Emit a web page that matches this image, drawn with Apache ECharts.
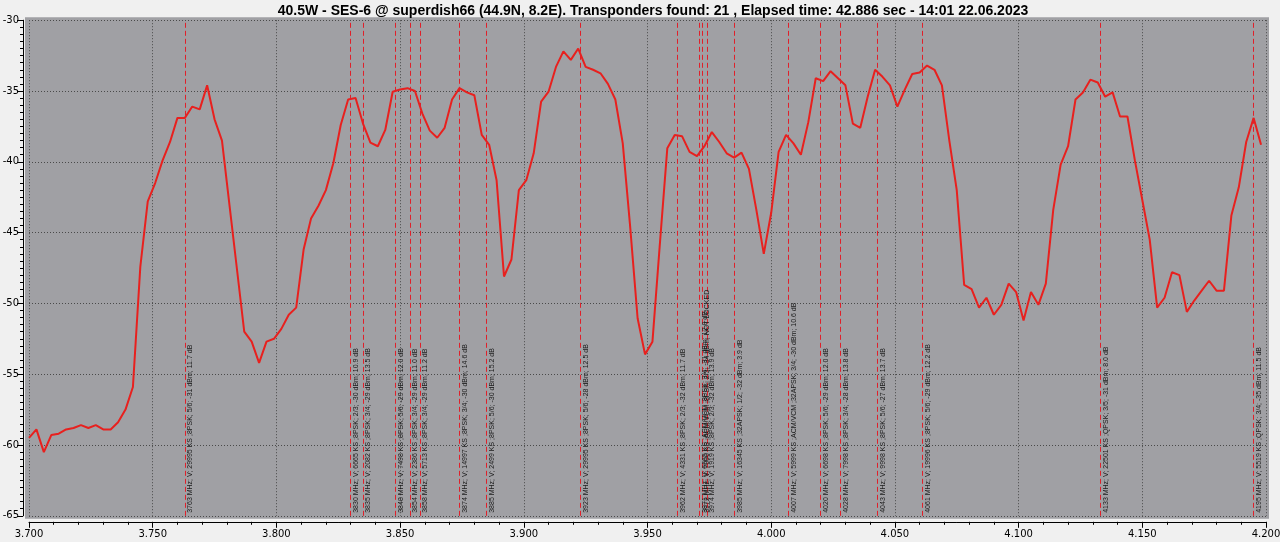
<!DOCTYPE html>
<html><head><meta charset="utf-8">
<script src="https://cdn.jsdelivr.net/npm/echarts@6/dist/echarts.min.js"></script>
<style>html,body{margin:0;padding:0;background:#f0f0f0}#c{width:1280px;height:542px}</style>
</head><body><div id="c"></div>
<script>
const titleText = '40.5W - SES-6 @ superdish66 (44.9N, 8.2E). Transponders found: 21 , Elapsed time: 42.886 sec - 14:01 22.06.2023';

const freqMHz = [
 3700,3703,3706,3709,3712,3715,3718,3721,3724,3727,3730,3733,3736,3739,3742,3745,3748,3751,3754,3757,
 3760,3763,3766,3769,3772,3775,3778,3781,3784,3787,3790,3793,3796,3799,3802,3805,3808,3811,3814,3817,
 3820,3823,3826,3829,3832,3835,3838,3841,3844,3847,3850,3853,3856,3859,3862,3865,3868,3871,3874,3877,
 3880,3883,3886,3889,3892,3895,3898,3901,3904,3907,3910,3913,3916,3919,3922,3925,3928,3931,3934,3937,
 3940,3943,3946,3949,3952,3955,3958,3961,3964,3967,3970,3973,3976,3979,3982,3985,3988,3991,3994,3997,
 4000,4003,4006,4009,4012,4015,4018,4021,4024,4027,4030,4033,4036,4039,4042,4045,4048,4051,4054,4057,
 4060,4063,4066,4069,4072,4075,4078,4081,4084,4087,4090,4093,4096,4099,4102,4105,4108,4111,4114,4117,
 4120,4123,4126,4129,4132,4135,4138,4141,4144,4147,4150,4153,4156,4159,4162,4165,4168,4171,4174,4177,
 4180,4183,4186,4189,4192,4195,4198
];
const levelDbm = [
 -59.5,-58.9,-60.5,-59.3,-59.2,-58.9,-58.8,-58.6,-58.8,-58.6,-58.9,-58.9,-58.4,-57.5,-55.9,-47.4,-42.8,-41.5,-39.9,-38.6,
 -36.9,-36.9,-36.1,-36.3,-34.6,-37.0,-38.5,-43.0,-47.5,-52.0,-52.7,-54.2,-52.7,-52.5,-51.8,-50.8,-50.3,-46.2,-44.0,-43.1,
 -42.0,-40.1,-37.4,-35.6,-35.5,-37.3,-38.65,-38.9,-37.75,-35.05,-34.9,-34.8,-35.0,-36.6,-37.8,-38.3,-37.6,-35.6,-34.8,-35.1,
 -35.3,-38.1,-38.8,-41.3,-48.1,-46.9,-42.0,-41.3,-39.4,-35.75,-35.05,-33.3,-32.2,-32.8,-32.0,-33.3,-33.5,-33.75,-34.5,-35.6,
 -38.7,-44.6,-51.05,-53.6,-52.7,-45.8,-39.05,-38.1,-38.2,-39.3,-39.6,-38.9,-37.9,-38.6,-39.4,-39.7,-39.35,-40.5,-43.4,-46.5,
 -43.6,-39.3,-38.1,-38.7,-39.5,-37.2,-34.1,-34.3,-33.6,-34.1,-34.6,-37.3,-37.6,-35.4,-33.5,-34.0,-34.6,-36.1,-34.9,-33.8,
 -33.7,-33.2,-33.5,-34.6,-38.5,-42.0,-48.7,-49.0,-50.3,-49.6,-50.8,-50.1,-48.6,-49.2,-51.2,-49.2,-50.1,-48.6,-43.4,-40.2,
 -38.9,-35.6,-35.1,-34.2,-34.4,-35.4,-35.1,-36.8,-36.8,-39.9,-42.7,-45.5,-50.3,-49.6,-47.8,-48.0,-50.6,-49.8,-49.1,-48.4,
 -49.1,-49.1,-43.8,-41.8,-38.6,-36.9,-38.8
];

const tpFreqMHz = [3763,3830,3835,3848,3854,3858,3874,3885,3923,3962,3971,3972,3974,3985,4007,4020,4028,4043,4061,4133,4195];
const tpLabels = [
 '3763 MHz; V; 29995 KS ;8PSK; 5/6; -31 dBm; 11.7 dB',
 '3830 MHz; V; 6665 KS ;8PSK; 2/3; -30 dBm; 10.9 dB',
 '3835 MHz; V; 2082 KS ;8PSK; 3/4; -29 dBm; 13.5 dB',
 '3848 MHz; V; 7498 KS ;8PSK; 5/6; -29 dBm; 12.0 dB',
 '3854 MHz; V; 2386 KS ;8PSK; 3/4; -29 dBm; 11.0 dB',
 '3858 MHz; V; 5713 KS ;8PSK; 3/4; -29 dBm; 11.2 dB',
 '3874 MHz; V; 14997 KS ;8PSK; 3/4; -30 dBm; 14.6 dB',
 '3885 MHz; V; 2499 KS ;8PSK; 5/6; -30 dBm; 15.2 dB',
 '3923 MHz; V; 29995 KS ;8PSK; 5/6; -28 dBm; 12.5 dB',
 '3962 MHz; V; 4331 KS ;8PSK; 2/3; -32 dBm; 11.7 dB',
 '3971 MHz; V; 6665 KS ;ACM/VCM ;8PSK; 3/4; -31 dBm; 12.0 dB',
 '3972 MHz; V; 7000 KS ;ACM/VCM ;8PSK; 2/3; -34 dBm; NOT LOCKED',
 '3974 MHz; V; 1919 KS ;8PSK; 2/3; -32 dBm; 13.9 dB',
 '3985 MHz; V; 16345 KS ;32APSK; 1/2; -32 dBm; 3.9 dB',
 '4007 MHz; V; 5999 KS ;ACM/VCM ;32APSK; 3/4; -30 dBm; 10.6 dB',
 '4020 MHz; V; 6698 KS ;8PSK; 5/6; -29 dBm; 12.0 dB',
 '4028 MHz; V; 7998 KS ;8PSK; 3/4; -28 dBm; 13.8 dB',
 '4043 MHz; V; 9998 KS ;8PSK; 5/6; -27 dBm; 13.7 dB',
 '4061 MHz; V; 19996 KS ;8PSK; 5/6; -29 dBm; 12.2 dB',
 '4133 MHz; V; 22501 KS ;QPSK; 3/5; -31 dBm; 8.0 dB',
 '4195 MHz; V; 5519 KS ;QPSK; 3/4; -35 dBm; 11.5 dB'
];

const chart = echarts.init(document.getElementById('c'), null, {renderer: 'canvas'});
const gridL = 29, gridR = 14, gridT = 20.2, gridB = 26.2;
chart.setOption({
  animation: false,
  backgroundColor: '#f0f0f0',
  textStyle: {fontFamily: 'DejaVu Sans'},
  title: {
    text: titleText, left: 648, top: -1, textAlign: 'center',
    textStyle: {fontFamily: 'Liberation Sans', fontWeight: 'bold', fontSize: 14, color: '#000'}
  },
  graphic: [{
    type: 'rect', z: -10, silent: true,
    shape: {x: gridL - 4, y: gridT - 3, width: 1280 - gridL - gridR + 7, height: 542 - gridT - gridB + 6},
    style: {fill: '#a0a0a4'}
  }],
  grid: {left: gridL, right: gridR, top: gridT, bottom: gridB, show: false, containLabel: false, outerBoundsMode: 'none'},
  xAxis: {
    type: 'value', min: 3700, max: 4200, interval: 50,
    offset: 6,
    axisLine: {show: true, onZero: false, lineStyle: {color: '#000', width: 1}},
    axisTick: {show: true, length: 6, lineStyle: {color: '#000'}},
    minorTick: {show: true, splitNumber: 5, length: 3, lineStyle: {color: '#000'}},
    axisLabel: {fontSize: 10, color: '#000', margin: 8, formatter: v => (v / 1000).toFixed(3)},
    splitLine: {show: true, lineStyle: {color: '#4a4a4a', type: [1, 2], width: 1}}
  },
  yAxis: {
    type: 'value', min: -65, max: -30, interval: 5,
    offset: 6,
    axisLine: {show: true, onZero: false, lineStyle: {color: '#000', width: 1}},
    axisTick: {show: true, length: 6, lineStyle: {color: '#000'}},
    minorTick: {show: true, splitNumber: 10, length: 3, lineStyle: {color: '#000'}},
    axisLabel: {fontSize: 10, color: '#000', margin: 4},
    splitLine: {show: true, lineStyle: {color: '#4a4a4a', type: [1, 2], width: 1}}
  },
  series: [
    {
      type: 'line', name: 'spectrum', showSymbol: false, symbol: 'none', silent: true,
      data: freqMHz.map((f, i) => [f, levelDbm[i]]),
      lineStyle: {color: '#e8201e', width: 2},
      z: 3
    },
    {
      type: 'line', name: 'tp', data: [], silent: true, z: 2,
      markLine: {
        silent: true, symbol: 'none', animation: false,
        lineStyle: {color: '#e0202a', width: 1, type: [5, 3]},
        label: {
          show: true, position: 'insideStartBottom', distance: [3, 2],
          formatter: '{b}', fontSize: 7, color: '#1a1a1a',
          fontFamily: 'Liberation Sans Narrow, Liberation Sans'
        },
        emphasis: {disabled: true},
        data: tpFreqMHz.map((f, i) => ({xAxis: f, name: tpLabels[i]}))
      }
    }
  ]
});
</script></body></html>
